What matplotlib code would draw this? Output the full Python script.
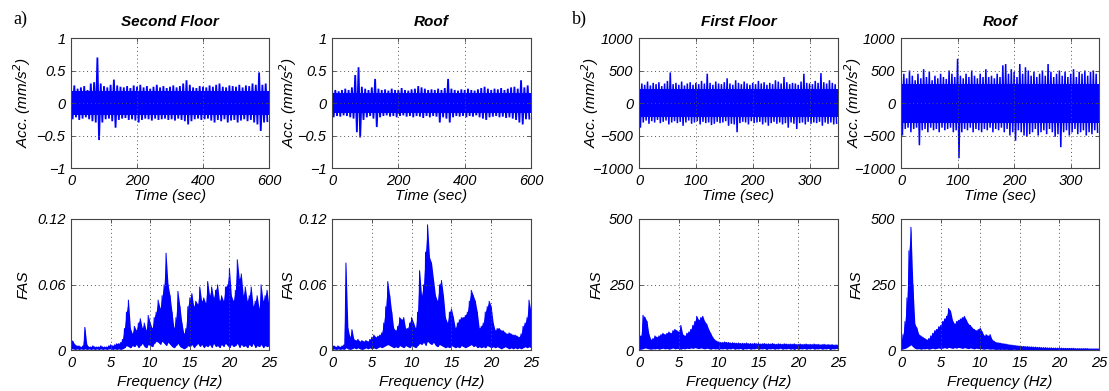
import numpy as np
import matplotlib
matplotlib.use("Agg")
import matplotlib.pyplot as plt

# ---------------- data ----------------
# Time histories: envelope values (upper / lower) at regular time samples
t_step_a = 10.0   # s, panels a)
t_step_b = 5.0    # s, panels b)

acc_a_floor2_up = [0.25,0.27,0.22,0.24,0.26,0.2,0.3,0.32,0.7,0.3,
                   0.26,0.24,0.28,0.36,0.27,0.25,0.24,0.26,0.23,0.27,
                   0.25,0.28,0.24,0.26,0.22,0.25,0.28,0.24,0.26,0.23,
                   0.25,0.27,0.24,0.26,0.3,0.35,0.28,0.24,0.23,0.26,
                   0.25,0.24,0.27,0.25,0.28,0.3,0.25,0.24,0.27,0.26,
                   0.25,0.28,0.24,0.27,0.26,0.3,0.28,0.47,0.28,0.3]
acc_a_floor2_lo = [-0.25,-0.22,-0.26,-0.24,-0.22,-0.25,-0.28,-0.3,-0.57,-0.3,
                   -0.25,-0.24,-0.28,-0.38,-0.26,-0.24,-0.23,-0.26,-0.25,-0.27,
                   -0.3,-0.26,-0.24,-0.25,-0.27,-0.24,-0.26,-0.25,-0.24,-0.26,
                   -0.25,-0.27,-0.24,-0.26,-0.28,-0.33,-0.28,-0.25,-0.24,-0.26,
                   -0.25,-0.24,-0.27,-0.3,-0.26,-0.28,-0.25,-0.3,-0.27,-0.26,
                   -0.3,-0.27,-0.25,-0.28,-0.26,-0.3,-0.33,-0.43,-0.3,-0.28]
acc_a_floor2_core = 0.18   # amplitude of the solid central band

acc_a_roof_up = [0.22,0.2,0.18,0.2,0.22,0.2,0.24,0.43,0.55,0.25,
                 0.22,0.2,0.24,0.37,0.22,0.2,0.21,0.19,0.22,0.2,
                 0.2,0.23,0.2,0.19,0.21,0.22,0.26,0.24,0.22,0.2,
                 0.21,0.2,0.22,0.2,0.23,0.37,0.22,0.2,0.19,0.21,
                 0.2,0.22,0.2,0.19,0.21,0.23,0.25,0.22,0.2,0.22,
                 0.21,0.23,0.2,0.22,0.24,0.25,0.22,0.35,0.24,0.27]
acc_a_roof_lo = [-0.22,-0.2,-0.21,-0.19,-0.2,-0.22,-0.24,-0.45,-0.53,-0.26,
                 -0.22,-0.2,-0.24,-0.37,-0.22,-0.2,-0.19,-0.21,-0.2,-0.22,
                 -0.2,-0.19,-0.21,-0.2,-0.22,-0.2,-0.21,-0.23,-0.2,-0.22,
                 -0.2,-0.21,-0.3,-0.22,-0.24,-0.3,-0.22,-0.2,-0.21,-0.2,
                 -0.22,-0.2,-0.21,-0.19,-0.22,-0.24,-0.26,-0.22,-0.21,-0.2,
                 -0.22,-0.21,-0.23,-0.22,-0.24,-0.26,-0.3,-0.33,-0.25,-0.24]
acc_a_roof_core = 0.16

acc_b_floor1_up = [400,300,280,330,270,310,290,320,260,300,
                   340,470,290,310,280,330,270,300,320,280,
                   310,290,340,300,450,310,280,330,300,290,
                   320,380,300,280,350,310,290,330,300,280,
                   310,290,340,300,320,280,310,290,350,330,
                   300,400,320,290,310,300,280,330,450,310,
                   300,290,340,310,460,320,300,350,310,290]
acc_b_floor1_lo = [-380,-300,-270,-320,-280,-300,-260,-310,-290,-270,
                   -330,-300,-280,-310,-290,-350,-300,-270,-320,-300,
                   -280,-330,-290,-310,-300,-340,-320,-290,-310,-300,
                   -280,-350,-320,-330,-450,-310,-290,-300,-330,-280,
                   -310,-300,-290,-330,-300,-350,-310,-290,-320,-300,
                   -330,-310,-380,-300,-320,-400,-310,-300,-330,-290,
                   -320,-300,-310,-290,-350,-300,-320,-300,-330,-310]
acc_b_floor1_core = 220

acc_b_roof_up = [600,450,380,500,420,350,450,380,520,400,
                 480,350,420,380,450,400,370,500,450,400,
                 680,420,380,450,400,500,420,380,450,400,
                 520,400,420,380,450,400,580,600,450,520,
                 480,400,600,450,550,500,420,480,400,450,
                 500,420,600,480,400,450,500,420,480,400,
                 450,520,400,480,450,500,420,480,500,450]
acc_b_roof_lo = [-500,-400,-380,-450,-400,-380,-650,-420,-400,-450,
                 -380,-420,-400,-450,-380,-420,-400,-380,-450,-420,
                 -850,-450,-400,-420,-380,-450,-400,-420,-450,-400,
                 -420,-380,-450,-400,-420,-380,-450,-400,-500,-450,
                 -580,-420,-450,-500,-520,-480,-450,-400,-500,-450,
                 -420,-480,-400,-450,-520,-480,-680,-450,-420,-500,
                 -450,-400,-480,-450,-420,-500,-450,-480,-420,-450]
acc_b_roof_core = 300

# Fourier amplitude spectra: envelope values every 0.25 Hz from 0 to 25 Hz
f_step = 0.25

fas_a_floor2_up = [0.010,0.008,0.005,0.004,0.004,0.003,0.004,0.021,0.005,0.003,
                   0.003,0.004,0.003,0.003,0.003,0.004,0.003,0.003,0.003,0.004,
                   0.005,0.004,0.005,0.006,0.006,0.007,0.010,0.020,0.035,0.046,
                   0.020,0.015,0.022,0.018,0.025,0.029,0.020,0.025,0.018,0.032,
                   0.025,0.020,0.030,0.035,0.046,0.038,0.050,0.060,0.089,0.060,
                   0.050,0.035,0.020,0.030,0.054,0.040,0.025,0.015,0.020,0.040,
                   0.048,0.052,0.040,0.045,0.042,0.058,0.045,0.048,0.043,0.063,
                   0.050,0.058,0.048,0.055,0.060,0.045,0.050,0.045,0.058,0.060,
                   0.075,0.050,0.045,0.055,0.083,0.065,0.070,0.050,0.058,0.045,
                   0.050,0.058,0.040,0.045,0.050,0.038,0.060,0.045,0.050,0.055,
                   0.040]
fas_a_floor2_lo = [0.001,0.001,0.0005,0.001,0.0005,0.001,0.0005,0.001,0.0005,0.001,
                   0.0005,0.001,0.0005,0.001,0.0005,0.001,0.0005,0.001,0.0005,0.001,
                   0.001,0.0005,0.001,0.0005,0.001,0.0005,0.001,0.002,0.004,0.003,
                   0.002,0.004,0.003,0.005,0.002,0.004,0.006,0.003,0.002,0.005,
                   0.004,0.003,0.006,0.008,0.007,0.005,0.008,0.006,0.004,0.007,
                   0.005,0.003,0.002,0.004,0.006,0.003,0.002,0.001,0.002,0.004,
                   0.003,0.005,0.002,0.004,0.006,0.003,0.005,0.002,0.004,0.003,
                   0.005,0.002,0.006,0.003,0.004,0.002,0.005,0.003,0.006,0.004,
                   0.002,0.005,0.003,0.004,0.006,0.002,0.005,0.003,0.004,0.002,
                   0.005,0.003,0.006,0.002,0.004,0.003,0.005,0.002,0.004,0.003,
                   0.004]

fas_a_roof_up = [0.004,0.004,0.003,0.004,0.003,0.004,0.005,0.080,0.020,0.012,
                 0.019,0.010,0.009,0.010,0.008,0.009,0.008,0.009,0.008,0.010,
                 0.012,0.014,0.012,0.013,0.014,0.016,0.025,0.040,0.063,0.050,
                 0.035,0.020,0.018,0.022,0.030,0.028,0.030,0.020,0.020,0.025,
                 0.030,0.025,0.020,0.035,0.073,0.050,0.060,0.090,0.115,0.085,
                 0.080,0.065,0.050,0.045,0.060,0.064,0.050,0.030,0.025,0.035,
                 0.038,0.030,0.020,0.025,0.028,0.030,0.030,0.032,0.035,0.045,
                 0.055,0.050,0.045,0.035,0.020,0.022,0.025,0.035,0.040,0.045,
                 0.040,0.025,0.018,0.020,0.020,0.018,0.018,0.016,0.015,0.016,
                 0.015,0.014,0.014,0.013,0.012,0.015,0.022,0.025,0.030,0.046,
                 0.035]
fas_a_roof_lo = [0.0005,0.001,0.0005,0.001,0.0005,0.001,0.0005,0.002,0.001,0.0005,
                 0.001,0.002,0.001,0.002,0.001,0.0005,0.001,0.002,0.001,0.002,
                 0.001,0.002,0.001,0.002,0.003,0.002,0.003,0.004,0.005,0.004,
                 0.003,0.002,0.003,0.002,0.004,0.003,0.002,0.004,0.003,0.002,
                 0.004,0.003,0.002,0.004,0.006,0.005,0.007,0.004,0.008,0.006,
                 0.005,0.007,0.004,0.003,0.005,0.004,0.003,0.002,0.003,0.002,
                 0.004,0.003,0.002,0.003,0.002,0.004,0.003,0.002,0.003,0.004,
                 0.005,0.003,0.004,0.002,0.003,0.002,0.003,0.002,0.004,0.003,
                 0.002,0.003,0.002,0.003,0.002,0.001,0.002,0.003,0.002,0.001,
                 0.002,0.001,0.002,0.001,0.002,0.001,0.002,0.003,0.002,0.003,
                 0.002]

fas_b_floor1_up = [57,55,134,125,110,60,40,45,55,50,
                   55,60,65,60,65,70,65,75,80,75,
                   70,95,60,55,65,70,80,95,110,130,
                   115,125,130,110,100,80,65,50,40,35,
                   32,30,30,32,30,30,28,29,28,27,
                   28,26,27,26,28,25,26,25,27,25,
                   26,24,25,26,24,25,24,26,24,23,
                   25,24,23,25,24,23,24,23,25,22,
                   23,24,22,23,24,22,23,22,24,22,
                   23,21,22,23,21,22,21,22,20,21,
                   20]
fas_b_floor1_lo = [2,3,5,8,6,4,3,5,4,6,
                   3,5,7,4,6,3,5,8,4,6,
                   5,3,6,4,7,5,8,6,9,7,
                   5,8,6,4,7,5,3,6,4,5,
                   3,5,4,6,3,5,4,7,3,5,
                   4,6,2,5,4,6,3,5,4,7,
                   3,5,4,6,2,5,4,6,3,5,
                   4,7,3,5,4,6,3,5,2,6,
                   3,5,4,6,3,5,4,7,3,5,
                   4,6,3,5,4,6,2,5,4,6,
                   4]

fas_b_roof_up = [30,60,110,200,380,470,250,100,85,60,
                 55,50,45,40,45,55,65,75,80,90,
                 95,110,120,130,160,150,115,100,110,115,
                 120,125,130,115,100,95,85,80,75,80,
                 85,70,55,60,55,60,40,35,30,29,
                 28,26,25,24,22,21,20,19,18,17,
                 16,15,15,14,14,13,13,12,12,11,
                 11,10,10,10,9,9,9,8,8,8,
                 8,8,7,7,7,7,7,7,6,6,
                 6,6,6,6,6,5,5,5,5,5,
                 5]
fas_b_roof_lo = [2,4,6,10,15,20,12,6,4,5,
                 3,5,4,6,3,5,7,4,6,8,
                 5,7,9,6,10,8,6,9,7,10,
                 8,6,9,7,5,8,6,4,7,5,
                 6,4,3,5,4,3,4,3,2,3,
                 2,3,2,3,2,1,2,3,2,1,
                 2,1,2,1,2,1,1,2,1,1,
                 2,1,1,2,1,1,1,2,1,1,
                 1,1,2,1,1,1,1,2,1,1,
                 1,1,1,1,2,1,1,1,1,1,
                 1]

titles = ["Second Floor", "Roof", "First Floor", "Roof"]
time_xlims = [600, 600, 350, 350]
time_xticks = [[0, 200, 400, 600], [0, 200, 400, 600],
               [0, 100, 200, 300], [0, 100, 200, 300]]
acc_yticks_a = [-1, -0.5, 0, 0.5, 1]
acc_yticklabels_a = ["\u22121", "\u22120.5", "0", "0.5", "1"]
acc_yticks_b = [-1000, -500, 0, 500, 1000]
acc_yticklabels_b = ["\u22121000", "\u2212500", "0", "500", "1000"]
fas_xticks = [0, 5, 10, 15, 20, 25]
fas_yticks_a = [0, 0.06, 0.12]
fas_yticklabels_a = ["0", "0.06", "0.12"]
fas_yticks_b = [0, 250, 500]

# ---------------- style ----------------
plt.rcParams['font.family'] = ['Liberation Sans', 'DejaVu Sans']
plt.rcParams['font.style'] = 'italic'
plt.rcParams['font.size'] = 10.5
plt.rcParams['axes.unicode_minus'] = True

BLUE = '#0000ff'
FRAME = '#444444'

fig = plt.figure(figsize=(11.09, 3.91), dpi=100)
W, H = 1109.0, 391.0


def make_ax(left_px, right_px, top_px, bottom_px):
    return fig.add_axes([left_px / W, 1 - bottom_px / H,
                         (right_px - left_px) / W, (bottom_px - top_px) / H])


def zigzag(step, up, lo):
    up = np.asarray(up, float)
    lo = np.asarray(lo, float)
    n = len(up)
    x0 = np.arange(n) * step
    x = np.empty(2 * n)
    y = np.empty(2 * n)
    x[0::2] = x0
    x[1::2] = x0 + step / 2.0
    y[0::2] = up
    y[1::2] = lo
    return x, y


def style(ax):
    for s in ax.spines.values():
        s.set_color(FRAME)
        s.set_linewidth(0.8)
        s.set_zorder(5)
    ax.tick_params(direction='in', length=3, width=0.6, color=FRAME,
                   top=True, right=True, labelsize=10.5, pad=4)
    ax.grid(True, linestyle=(0, (1, 3)), color='#555555', linewidth=0.7)
    ax.set_axisbelow(False)


lefts = [71, 332, 639, 901]
rights = [269, 531, 838, 1099]
acc_data = [(t_step_a, acc_a_floor2_up, acc_a_floor2_lo, acc_a_floor2_core),
            (t_step_a, acc_a_roof_up, acc_a_roof_lo, acc_a_roof_core),
            (t_step_b, acc_b_floor1_up, acc_b_floor1_lo, acc_b_floor1_core),
            (t_step_b, acc_b_roof_up, acc_b_roof_lo, acc_b_roof_core)]
fas_data = [(fas_a_floor2_up, fas_a_floor2_lo),
            (fas_a_roof_up, fas_a_roof_lo),
            (fas_b_floor1_up, fas_b_floor1_lo),
            (fas_b_roof_up, fas_b_roof_lo)]
acc_label_x = [-0.194, -0.167, -0.193, -0.187]
fas_label_x = [-0.202, -0.183, -0.177, -0.187]
lws = [1.3, 1.3, 1.1, 1.1]

for i in range(4):
    # --- time history ---
    ax = make_ax(lefts[i], rights[i], 38, 168)
    step, up, lo, core = acc_data[i]
    x, y = zigzag(step, up, lo)
    ax.fill_between([0, time_xlims[i]], -core, core, color=BLUE, lw=0, zorder=2)
    ax.plot(x, y, color=BLUE, lw=lws[i], solid_joinstyle='bevel', zorder=2)
    ax.set_xlim(0, time_xlims[i])
    ax.set_xticks(time_xticks[i])
    if i < 2:
        ax.set_ylim(-1, 1)
        ax.set_yticks(acc_yticks_a)
        ax.set_yticklabels(acc_yticklabels_a)
    else:
        ax.set_ylim(-1000, 1000)
        ax.set_yticks(acc_yticks_b)
        ax.set_yticklabels(acc_yticklabels_b)
    style(ax)
    ax.set_xlabel("Time (sec)", fontsize=11)
    ax.xaxis.set_label_coords(0.5, -0.16)
    ax.set_ylabel("Acc. (mm/s$^2$)", fontsize=11)
    ax.yaxis.set_label_coords(acc_label_x[i], 0.5)
    ax.set_title(titles[i], fontsize=11, fontweight='bold', style='italic', pad=9)

    # --- Fourier amplitude spectrum ---
    ax2 = make_ax(lefts[i], rights[i], 219, 350)
    up, lo = fas_data[i]
    f = np.arange(len(up)) * f_step
    x, y = zigzag(f_step, up, lo)
    ax2.fill_between(f, lo, up, color=BLUE, lw=0, zorder=2)
    ax2.plot(x, y, color=BLUE, lw=0.7, solid_joinstyle='bevel', zorder=2)
    ax2.set_xlim(0, 25)
    ax2.set_xticks(fas_xticks)
    if i < 2:
        ax2.set_ylim(0, 0.12)
        ax2.set_yticks(fas_yticks_a)
        ax2.set_yticklabels(fas_yticklabels_a)
    else:
        ax2.set_ylim(0, 500)
        ax2.set_yticks(fas_yticks_b)
    style(ax2)
    ax2.set_xlabel("Frequency (Hz)", fontsize=11)
    ax2.xaxis.set_label_coords(0.5, -0.19)
    ax2.set_ylabel("FAS", fontsize=11)
    ax2.yaxis.set_label_coords(fas_label_x[i], 0.5)

fig.text(13 / W, 1 - 19 / H, "a)", family=['Liberation Serif', 'DejaVu Serif'],
         style='normal', fontsize=13, va='center', ha='left')
fig.text(572 / W, 1 - 19 / H, "b)", family=['Liberation Serif', 'DejaVu Serif'],
         style='normal', fontsize=13, va='center', ha='left')

fig.savefig("out.png", dpi=100)
